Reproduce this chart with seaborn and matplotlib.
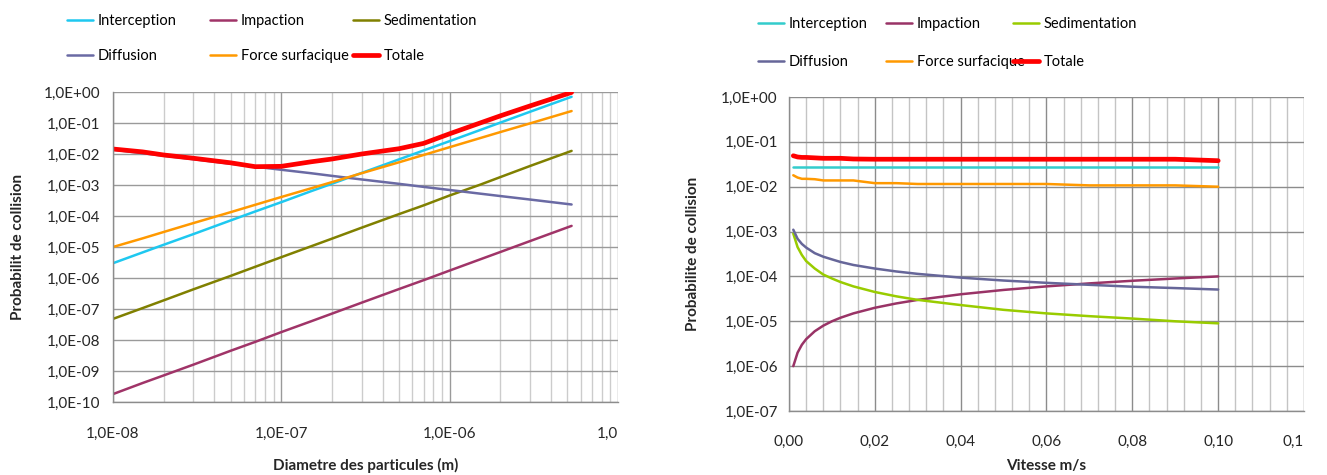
import matplotlib
matplotlib.use("Agg")
import matplotlib.pyplot as plt
import matplotlib.ticker as mticker
import seaborn as sns

# ---- left chart: collision probability vs particle diameter ----
diam = [1e-8, 1.5e-8, 2e-8, 3e-8, 5e-8, 7e-8, 1e-7, 1.5e-7, 2e-7, 3e-7,
        5e-7, 7e-7, 1e-6, 1.5e-6, 2e-6, 3e-6, 5.3e-6]
d_interception = [3.0e-6, 6.7e-6, 1.18e-5, 2.6e-5, 7.2e-5, 1.4e-4, 2.8e-4, 6.3e-4, 1.1e-3,
                  2.45e-3, 6.7e-3, 1.3e-2, 2.6e-2, 5.8e-2, 0.103, 0.23, 0.70]
d_impaction = [1.8e-10, 4.1e-10, 7.2e-10, 1.6e-9, 4.5e-9, 8.7e-9, 1.8e-8, 4.0e-8, 7.1e-8,
               1.6e-7, 4.4e-7, 8.5e-7, 1.74e-6, 3.9e-6, 6.9e-6, 1.55e-5, 4.8e-5]
d_sedimentation = [4.8e-8, 1.07e-7, 1.9e-7, 4.3e-7, 1.17e-6, 2.3e-6, 4.7e-6, 1.05e-5, 1.86e-5,
                   4.2e-5, 1.15e-4, 2.2e-4, 4.6e-4, 1.0e-3, 1.8e-3, 4.1e-3, 1.26e-2]
d_diffusion = [1.38e-2, 1.06e-2, 8.8e-3, 6.8e-3, 4.85e-3, 3.9e-3, 3.1e-3, 2.4e-3, 1.97e-3,
               1.51e-3, 1.09e-3, 8.7e-4, 6.9e-4, 5.3e-4, 4.4e-4, 3.4e-4, 2.35e-4]
d_force = [1.0e-5, 1.9e-5, 3.05e-5, 5.9e-5, 1.33e-4, 2.3e-4, 4.1e-4, 7.8e-4, 1.24e-3,
           2.4e-3, 5.4e-3, 9.3e-3, 1.66e-2, 3.2e-2, 5.1e-2, 9.7e-2, 0.243]
d_totale = [1.45e-2, 1.17e-2, 9.3e-3, 7.3e-3, 5.2e-3, 3.9e-3, 4.0e-3, 5.6e-3, 6.9e-3,
            1.0e-2, 1.48e-2, 2.2e-2, 4.5e-2, 9.8e-2, 0.17, 0.355, 0.97]

# ---- right chart: collision probability vs velocity ----
vel = [0.001, 0.002, 0.003, 0.004, 0.006, 0.008, 0.01, 0.012, 0.015, 0.02,
       0.025, 0.03, 0.04, 0.05, 0.06, 0.07, 0.08, 0.09, 0.1]
v_interception = [2.8e-2] * len(vel)
v_impaction = [1e-6, 2e-6, 3e-6, 4e-6, 6e-6, 8e-6, 1e-5, 1.2e-5, 1.5e-5, 2e-5,
               2.5e-5, 3e-5, 4e-5, 5e-5, 6e-5, 7e-5, 8e-5, 9e-5, 1e-4]
v_sedimentation = [9e-4, 4.5e-4, 3e-4, 2.2e-4, 1.5e-4, 1.1e-4, 9e-5, 7.5e-5, 6e-5, 4.5e-5,
                   3.6e-5, 3e-5, 2.3e-5, 1.8e-5, 1.5e-5, 1.3e-5, 1.15e-5, 1.0e-5, 9e-6]
v_diffusion = [1.1e-3, 6.9e-4, 5.3e-4, 4.4e-4, 3.3e-4, 2.75e-4, 2.4e-4, 2.1e-4, 1.8e-4, 1.5e-4,
               1.29e-4, 1.14e-4, 9.4e-5, 8.1e-5, 7.2e-5, 6.5e-5, 5.9e-5, 5.5e-5, 5.1e-5]
v_force = [1.8e-2, 1.6e-2, 1.5e-2, 1.5e-2, 1.47e-2, 1.38e-2, 1.38e-2, 1.38e-2, 1.38e-2, 1.2e-2,
           1.2e-2, 1.15e-2, 1.15e-2, 1.15e-2, 1.15e-2, 1.07e-2, 1.07e-2, 1.07e-2, 1.0e-2]
v_totale = [4.9e-2, 4.6e-2, 4.5e-2, 4.5e-2, 4.4e-2, 4.3e-2, 4.3e-2, 4.3e-2, 4.15e-2, 4.1e-2,
            4.1e-2, 4.1e-2, 4.1e-2, 4.1e-2, 4.1e-2, 4.1e-2, 4.1e-2, 4.1e-2, 3.8e-2]

names = ["Interception", "Impaction", "Sedimentation", "Diffusion", "Force surfacique", "Totale"]
left_colors = ["#1ec8f0", "#a03468", "#808000", "#6a6aa4", "#ff9900", "#ff0000"]
right_colors = ["#33cccc", "#993366", "#99cc00", "#666699", "#ff9900", "#ff0000"]

left_xticks = [1e-8, 1e-7, 1e-6, 1e-5]
left_xlabels = ["1,0E-08", "1,0E-07", "1,0E-06", "1,0"]
right_xticks = [0, 0.02, 0.04, 0.06, 0.08, 0.10, 0.12]
right_xlabels = ["0,00", "0,02", "0,04", "0,06", "0,08", "0,10", "0,1"]

sns.set_style("white")
plt.rcParams["font.family"] = ["Lato", "DejaVu Sans"]
plt.rcParams["text.color"] = "#000000"

W, H = 1327, 475
fig = plt.figure(figsize=(W / 100, H / 100), dpi=100)
ax1 = fig.add_axes([113 / W, 1 - 402 / H, 505 / W, 310 / H])
ax2 = fig.add_axes([789 / W, 1 - 411 / H, 515 / W, 314 / H])


def sci(v, pos):
    return f"{v:.1E}".replace(".", ",")


def draw(ax, x, series, colors):
    handles = []
    for name, y, c in zip(names, series, colors):
        lw = 3.4 if name == "Totale" else 1.8
        sns.lineplot(x=x, y=y, ax=ax, color=c, linewidth=lw, label=name, legend=False,
                     sort=False, estimator=None)
        handles.append(ax.lines[-1])
    return handles


h1 = draw(ax1, diam, [d_interception, d_impaction, d_sedimentation, d_diffusion, d_force, d_totale],
          left_colors)
h2 = draw(ax2, vel, [v_interception, v_impaction, v_sedimentation, v_diffusion, v_force, v_totale],
          right_colors)

# left axes
ax1.set_xscale("log")
ax1.set_yscale("log")
ax1.set_xlim(1e-8, 1e-5)
ax1.set_ylim(1e-10, 1)
ax1.set_yticks([10.0 ** -k for k in range(11)])
ax1.yaxis.set_major_formatter(mticker.FuncFormatter(sci))
ax1.yaxis.set_minor_locator(mticker.NullLocator())
ax1.set_xticks(left_xticks, left_xlabels)
ax1.xaxis.set_minor_locator(mticker.LogLocator(base=10, subs=range(2, 10), numticks=20))
ax1.grid(True, which="major", axis="both", color="#9a9a9a", linewidth=1.0)
ax1.grid(True, which="minor", axis="x", color="#cccccc", linewidth=1.0)
ax1.tick_params(axis="y", which="both", length=0, pad=9, labelsize=11)
ax1.tick_params(axis="x", which="both", length=0, pad=18, labelsize=11)
ax1.get_xticklabels()[-1].set_ha("right")

# right axes
ax2.set_yscale("log")
ax2.set_xlim(0, 0.12)
ax2.set_ylim(1e-7, 1)
ax2.set_yticks([10.0 ** -k for k in range(8)])
ax2.yaxis.set_major_formatter(mticker.FuncFormatter(sci))
ax2.yaxis.set_minor_locator(mticker.NullLocator())
ax2.set_xticks(right_xticks, right_xlabels)
ax2.xaxis.set_minor_locator(mticker.MultipleLocator(0.004))
ax2.grid(True, which="major", axis="both", color="#8c8c8c", linewidth=1.0)
ax2.grid(True, which="minor", axis="x", color="#c4c4c4", linewidth=1.0)
ax2.tick_params(axis="y", which="major", length=5, width=1, color="#8c8c8c", pad=3, labelsize=11)
ax2.tick_params(axis="x", which="both", length=0, pad=17, labelsize=11)
ax2.get_xticklabels()[-1].set_ha("right")

for ax in (ax1, ax2):
    ax.set_axisbelow(True)
    for s in ("top", "right"):
        ax.spines[s].set_visible(False)
    for s in ("left", "bottom"):
        ax.spines[s].set_color("#8c8c8c")
        ax.spines[s].set_linewidth(1.0)

ax1.set_xlabel("Diametre des particules (m)", fontsize=11, fontweight="bold")
ax1.xaxis.set_label_coords(0.5, -0.206)
ax1.xaxis.label.set_va("center")
ax1.set_ylabel("Probabilit de collision", fontsize=11, fontweight="bold")
ax1.yaxis.set_label_coords(-0.188, 0.5)
ax1.yaxis.label.set_va("center")

ax2.set_xlabel("Vitesse m/s", fontsize=11, fontweight="bold")
ax2.xaxis.set_label_coords(0.5, -0.175)
ax2.xaxis.label.set_va("center")
ax2.set_ylabel("Probabilite de collision", fontsize=11, fontweight="bold")
ax2.yaxis.set_label_coords(-0.186, 0.5)
ax2.yaxis.label.set_va("center")


def legend_cols(handles, xs, top, spacing):
    order = [[0, 3], [1, 4], [2, 5]]
    for col, x in zip(order, xs):
        hs = [handles[i] for i in col]
        fig.legend(hs, [names[i] for i in col], loc="upper left",
                   bbox_to_anchor=(x / W, 1 - top / H), frameon=False, fontsize=10.5,
                   handlelength=1.75, handletextpad=0.35, borderpad=0, borderaxespad=0,
                   labelspacing=spacing)


legend_cols(h1, [67, 210, 353], 14, 1.45)
legend_cols(h2, [758, 886, 1013], 17, 1.65)

fig.savefig("out.png", dpi=100)
